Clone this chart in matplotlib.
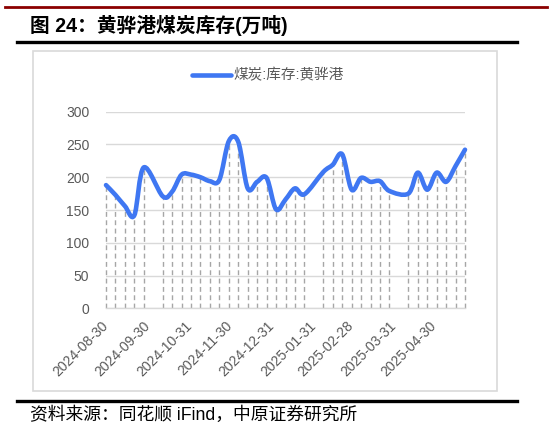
import matplotlib
matplotlib.use('Agg')
import matplotlib.pyplot as plt
import matplotlib.dates as mdates
from matplotlib.path import Path
from matplotlib.patches import PathPatch, Rectangle
from matplotlib.lines import Line2D
import numpy as np
import pandas as pd

plt.rcParams['font.family'] = ['Liberation Sans', 'Noto Sans CJK SC', 'DejaVu Sans']

# weekly Huanghua port coal stock (10k t)
dates = ['2024-08-30', '2024-09-06', '2024-09-13', '2024-09-20', '2024-09-27',
         '2024-10-11', '2024-10-18', '2024-10-25', '2024-11-01', '2024-11-08',
         '2024-11-15', '2024-11-22', '2024-11-29', '2024-12-06', '2024-12-13',
         '2024-12-20', '2024-12-27', '2025-01-03', '2025-01-10', '2025-01-17',
         '2025-01-24', '2025-02-07', '2025-02-14', '2025-02-21', '2025-02-28',
         '2025-03-07', '2025-03-14', '2025-03-21', '2025-03-28', '2025-04-11',
         '2025-04-18', '2025-04-25', '2025-05-02', '2025-05-09', '2025-05-16',
         '2025-05-23']
stock = [188, 173, 156, 142, 215,
         171, 178, 204, 204, 200,
         194, 196, 255, 254, 183,
         193, 199, 151, 166, 183,
         174, 208, 219, 235, 181,
         199, 193, 194, 179, 175,
         207, 181, 207, 193, 217,
         242]
tick_dates = ['2024-08-30', '2024-09-30', '2024-10-31', '2024-11-30', '2024-12-31',
              '2025-01-31', '2025-02-28', '2025-03-31', '2025-04-30']
y_ticks = [0, 50, 100, 150, 200, 250, 300]

title = '图 24：黄骅港煤炭库存(万吨)'
series_name = '煤炭:库存:黄骅港'
source = '资料来源：同花顺 iFind，中原证券研究所'

blue = '#3F77F2'
grey_txt = '#595959'
grid_c = '#d9d9d9'

W, H = 552, 432
x = mdates.date2num(pd.to_datetime(dates))
y = np.array(stock, dtype=float)

fig = plt.figure(figsize=(W / 100, H / 100), dpi=100)
ax = fig.add_axes([106 / W, 1 - 308.3 / H, (465 - 106) / W, (308.3 - 111.7) / H])

# smooth line (excel style) as bezier path through the data points
pts = np.column_stack([x, y])
verts = [pts[0]]
codes = [Path.MOVETO]
n = len(pts)
for i in range(n - 1):
    p0 = pts[max(i - 1, 0)]
    p1 = pts[i]
    p2 = pts[i + 1]
    p3 = pts[min(i + 2, n - 1)]
    verts += [p1 + (p2 - p0) / 6, p2 - (p3 - p1) / 6, p2]
    codes += [Path.CURVE4] * 3
curve = PathPatch(Path(verts, codes), fill=False, edgecolor=blue, lw=3.3,
                  capstyle='round', joinstyle='round', zorder=3, clip_on=False)
ax.add_patch(curve)

# drop lines
ax.vlines(x, 0, y, colors='#a6a6a6', linestyles=(0, (3.5, 2.5)), lw=1, zorder=2, clip_on=False)

ax.set_xlim(x[0], x[-1])
ax.set_ylim(0, 300)
ax.set_yticks(y_ticks)
tk = mdates.date2num(pd.to_datetime(tick_dates))
ax.set_xticks(tk)
ax.set_xticklabels(tick_dates, rotation=45, ha='right', va='center', rotation_mode='anchor')
ax.tick_params(axis='x', length=0, pad=11, labelsize=10, labelcolor=grey_txt)
ax.tick_params(axis='y', length=0, pad=12, labelsize=10, labelcolor=grey_txt)
ax.grid(axis='y', color=grid_c, lw=1)
ax.set_axisbelow(True)
for s in ['top', 'right', 'left']:
    ax.spines[s].set_visible(False)
ax.spines['bottom'].set_color(grid_c)
ax.spines['bottom'].set_linewidth(1)

h = Line2D([], [], color=blue, lw=3.3, solid_capstyle='round')
fig.legend([h], [series_name], loc='center', bbox_to_anchor=(268 / W, 1 - 75.7 / H),
           frameon=False, fontsize=10.5, handlelength=2.7, handletextpad=0.15,
           labelcolor=grey_txt)

# page decoration
fig.add_artist(Line2D([5 / W, 547 / W], [1 - 7 / H] * 2, color='#8B0000', lw=2))
fig.add_artist(Line2D([17 / W, 517 / W], [1 - 41.7 / H] * 2, color='black', lw=2.4))
fig.add_artist(Line2D([17 / W, 517 / W], [1 - 400.7 / H] * 2, color='black', lw=2.4))
fig.add_artist(Rectangle((33 / W, 1 - 391 / H), (497 - 33) / W, (391 - 50.7) / H,
                         transform=fig.transFigure, fill=False, ec=grid_c, lw=1.2))
fig.text(30 / W, 1 - 25 / H, title, fontsize=14.2, fontweight='bold', va='center', ha='left')
fig.text(30 / W, 1 - 415 / H, source, fontsize=12.8, va='center', ha='left')

fig.savefig('out.png', dpi=100)
